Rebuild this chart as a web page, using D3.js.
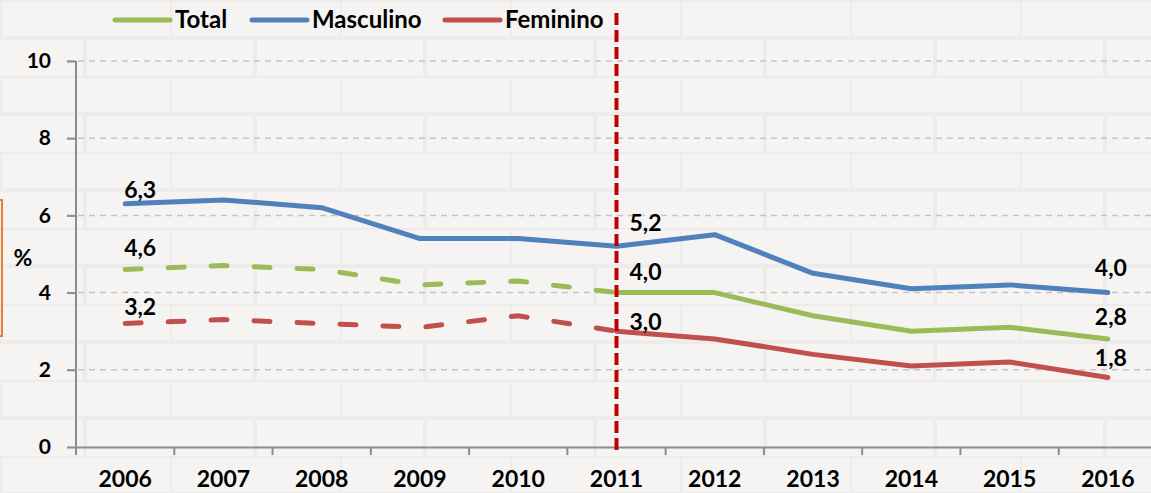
<!DOCTYPE html>
<html><head><meta charset="utf-8">
<script src="https://cdn.jsdelivr.net/npm/d3@7"></script>
<style>
html,body{margin:0;padding:0;background:#f4f3f2;}
svg{display:block;font-family:Lato,"Open Sans",sans-serif;}
</style></head>
<body>
<svg id="c" width="1151" height="493"></svg>
<script>
const years = ["2006","2007","2008","2009","2010","2011","2012","2013","2014","2015","2016"];
const total = [4.6,4.7,4.6,4.2,4.3,4.0,4.0,3.4,3.0,3.1,2.8];
const masculino = [6.3,6.4,6.2,5.4,5.4,5.2,5.5,4.5,4.1,4.2,4.0];
const feminino = [3.2,3.3,3.2,3.1,3.4,3.0,2.8,2.4,2.1,2.2,1.8];
const yTicks = [0,2,4,6,8,10];
const seriesNames = ["Total","Masculino","Feminino"];
const seriesColors = ["#9BBB59","#4F81BD","#C0504D"];
const dashedBeforeSplit = [true,false,true];
const splitYear = "2011";

const svg = d3.select("#c");
const W = 1151, H = 493;
const m = {left:76, right:-6, top:61, bottom:46};

// background with faint bricks
const defs = svg.append("defs");
const pat = defs.append("pattern").attr("id","brick").attr("patternUnits","userSpaceOnUse")
  .attr("width",170).attr("height",76);
pat.append("rect").attr("width",170).attr("height",76).attr("fill","#f5f4f3");
pat.append("path").attr("d","M0,0H170M0,38H170M0,0V38M85,38V76")
  .attr("stroke","#eeecea").attr("stroke-width",4).attr("fill","none");
svg.append("rect").attr("width",W).attr("height",H).attr("fill","url(#brick)");

const x = d3.scaleBand().domain(years).range([m.left, W - m.right]).padding(0);
const y = d3.scaleLinear().domain([0,10]).range([H - m.bottom, m.top]);
const cx = d => x(d) + x.bandwidth()/2;

// gridlines
svg.append("g").selectAll("line").data(yTicks.filter(t=>t>0)).join("line")
  .attr("x1", m.left-9).attr("x2", W).attr("y1", d=>y(d)).attr("y2", d=>y(d))
  .attr("stroke","#c4c4c4").attr("stroke-width",1.5).attr("stroke-dasharray","6,5");

// y axis
const ya = svg.append("g").attr("transform",`translate(${m.left},0)`)
  .call(d3.axisLeft(y).tickValues(yTicks).tickSize(9).tickPadding(16).tickFormat(d3.format("d")));
ya.select(".domain").attr("stroke","#8c8c8c").attr("stroke-width",2).attr("d",`M0,${y(10)}V${y(0)}`);
ya.selectAll(".tick line").attr("stroke","#8c8c8c").attr("stroke-width",2);
ya.selectAll(".tick text").attr("font-size",21).attr("font-weight","bold").attr("fill","#000")
  .attr("font-family","Lato,sans-serif");

// x axis
const xa = svg.append("g").attr("transform",`translate(0,${y(0)})`)
  .call(d3.axisBottom(x).tickSize(0).tickPadding(24));
xa.select(".domain").attr("stroke","#8c8c8c").attr("stroke-width",2);
xa.selectAll(".tick text").attr("font-size",23).attr("font-weight","bold").attr("fill","#000")
  .attr("font-family","Lato,sans-serif");
// ticks at category boundaries
svg.append("g").selectAll("line").data(years).join("line")
  .attr("x1", d=>x(d)).attr("x2", d=>x(d)).attr("y1", y(0)).attr("y2", y(0)+8)
  .attr("stroke","#8c8c8c").attr("stroke-width",2);

// % label with orange bracket
svg.append("rect").attr("x",-20).attr("y",200).attr("width",22).attr("height",136)
  .attr("fill","none").attr("stroke","#ED7D31").attr("stroke-width",2);
svg.append("text").attr("x",23).attr("y",266).attr("text-anchor","middle")
  .attr("font-size",23).attr("font-weight","bold").text("%");

// series lines
const data = [total, masculino, feminino];
const splitIdx = years.indexOf(splitYear);
const line = d3.line().x(d=>cx(d.year)).y(d=>y(d.v));
data.forEach((vals,i)=>{
  const pts = vals.map((v,j)=>({year:years[j], v}));
  if (dashedBeforeSplit[i]) {
    svg.append("path").datum(pts.slice(0, splitIdx+1)).attr("d", line)
      .attr("fill","none").attr("stroke",seriesColors[i]).attr("stroke-width",5)
      .attr("stroke-linecap","round").attr("stroke-dasharray","16,27");
    svg.append("path").datum(pts.slice(splitIdx)).attr("d", line)
      .attr("fill","none").attr("stroke",seriesColors[i]).attr("stroke-width",5)
      .attr("stroke-linecap","round").attr("stroke-linejoin","round");
  } else {
    svg.append("path").datum(pts).attr("d", line)
      .attr("fill","none").attr("stroke",seriesColors[i]).attr("stroke-width",5)
      .attr("stroke-linecap","round").attr("stroke-linejoin","round");
  }
});

// vertical split line
svg.append("line").attr("x1",cx(splitYear)).attr("x2",cx(splitYear))
  .attr("y1",13).attr("y2",y(0)+8)
  .attr("stroke","#C00000").attr("stroke-width",4).attr("stroke-dasharray","12,5");

// data labels
const fmt = v => d3.format(".1f")(v).replace(".",",");
const lbl = (xp, yp, t) => svg.append("text").attr("x",xp).attr("y",yp)
  .attr("font-size",23).attr("font-weight","bold").text(t);
const first = 0, last = years.length-1;
// 2006
lbl(cx(years[first])-1, y(masculino[first])-6, fmt(masculino[first]));
lbl(cx(years[first])-1, y(total[first])-13, fmt(total[first]));
lbl(cx(years[first])-1, y(feminino[first])-8, fmt(feminino[first]));
// 2011
lbl(cx(splitYear)+13, y(masculino[splitIdx])-15, fmt(masculino[splitIdx]));
lbl(cx(splitYear)+13, y(total[splitIdx])-13, fmt(total[splitIdx]));
lbl(cx(splitYear)+13, y(feminino[splitIdx])-1, fmt(feminino[splitIdx]));
// 2016
lbl(cx(years[last])-13, y(masculino[last])-17, fmt(masculino[last]));
lbl(cx(years[last])-13, y(total[last])-14, fmt(total[last]));
lbl(cx(years[last])-13, y(feminino[last])-12, fmt(feminino[last]));

// legend
const lg = svg.append("g");
const legX = [115, 252, 445];
seriesNames.forEach((n,i)=>{
  lg.append("line").attr("x1",legX[i]).attr("x2",legX[i]+55).attr("y1",20).attr("y2",20)
    .attr("stroke",seriesColors[i]).attr("stroke-width",5).attr("stroke-linecap","round");
  lg.append("text").attr("x",legX[i]+60).attr("y",28).attr("font-size",24)
    .attr("font-weight","bold").text(n);
});
</script>
</body></html>
